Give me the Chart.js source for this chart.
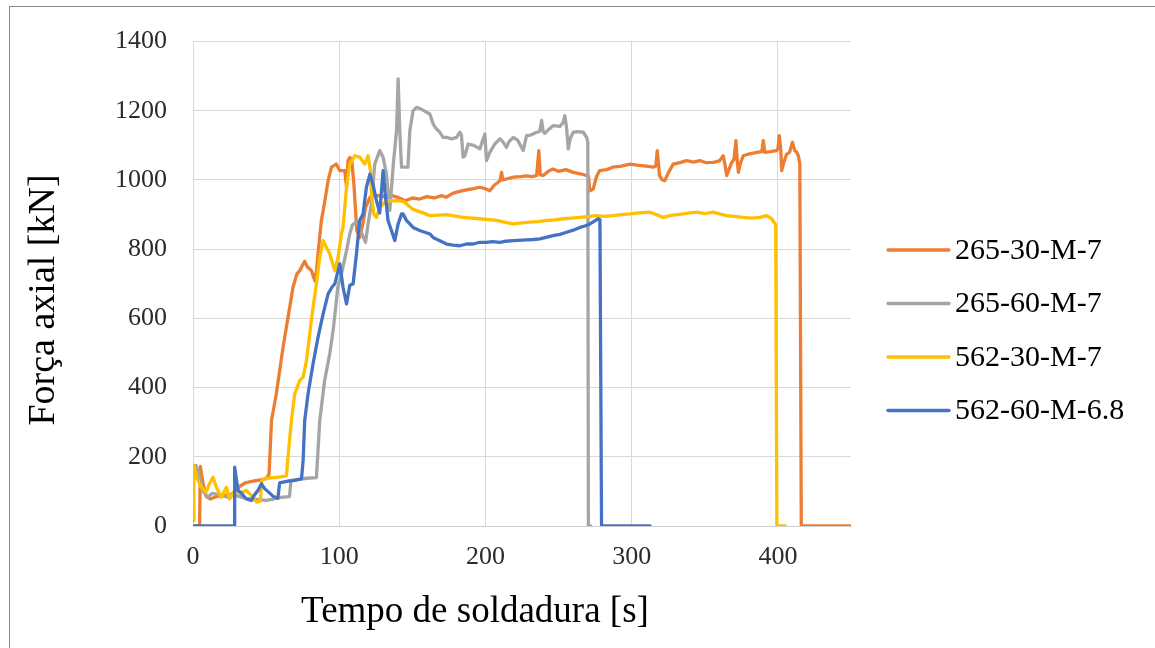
<!DOCTYPE html>
<html>
<head>
<meta charset="utf-8">
<title>Força axial vs tempo de soldadura</title>
<script src="https://cdn.jsdelivr.net/npm/chart.js@4.4.1/dist/chart.umd.min.js"></script>
<style>
  html, body { margin: 0; padding: 0; background: #fff; overflow: hidden; }
  #frame { position: absolute; left: 9px; top: 6px; width: 1300px; height: 800px; border: 1px solid #8a8a8a; }
  #c { position: absolute; left: 0; top: 0; display: block; }
</style>
</head>
<body>
<div id="frame"></div>
<canvas id="c" width="1155" height="648"></canvas>
<script>
// Series names (legend order)
const seriesNames = ['265-30-M-7', '265-60-M-7', '562-30-M-7', '562-60-M-6.8'];
const seriesColors = ['#ED7D31', '#A5A5A5', '#FFC000', '#4472C4'];

// Axis settings
const xTitle = 'Tempo de soldadura [s]';
const yTitle = 'Força axial [kN]';
const xMax = 450, xStep = 100;
const yMax = 1400, yStep = 200;

// 265-30-M-7: tempo [s] / força [kN]
const t265_30 = [0,4.5,5,7,9,12,16,20,24,28,32,36,41,46,50,52,53.7,57,61.6,65,68.4,71,73,75,76.4,78,81,83.3,84.5,85.5,87.8,90,92.4,94.7,98,100.4,103.8,105,106,107.2,108.5,110,112,114,116,118,121,124,128,132,136,140,145,150,155,160,165,170,173,178,183,188,192,196,200,203,206,210,211,212,216,219,224,228,232,235,236.5,237.5,239.5,243,246,250,255,260,265,269,270.5,271.4,273.7,276,278,283,287,293,298.8,305,310,314.7,316.5,317.5,318.5,319,321,322.7,325,328.4,333,337.6,342,346.7,351,355.8,360,362.6,364,365,366.5,368.4,370,371.3,372.3,373,374.5,376.3,380,385.5,389,390,391,395,399,400,401,402,402.6,404,406,408,410,411.5,412.9,414,415,416,450];
const f265_30 = [0,0,172,120,85,78,85,90,88,95,115,125,130,133,137,150,305,383,517,603,690,728,738,755,765,750,738,709,740,787,883,935,998,1037,1046,1027,1027,979,1056,1065,1060,990,854,834,870,920,950,955,955,950,955,950,940,948,945,952,948,955,950,962,968,972,975,979,975,969,985,998,1022,1000,1005,1008,1010,1012,1010,1013,1085,1015,1013,1025,1032,1025,1030,1022,1018,1013,1010,969,974,1010,1027,1030,1037,1040,1046,1042,1040,1037,1040,1085,1040,1013,1000,998,1020,1046,1050,1056,1052,1056,1050,1051,1055,1070,1040,1013,1030,1050,1060,1114,1050,1022,1050,1070,1075,1080,1082,1114,1080,1082,1085,1090,1128,1085,1027,1050,1075,1080,1109,1085,1080,1070,1046,0,0];

// 265-60-M-7
const t265_60 = [0,2,4,7,10,13,16,20,24,28,32,36,40,45,50,55,60,66,67,72,78,84.4,86.7,90,93.5,95.8,97.6,99,101.5,105,107.2,109,112,115,118,120,122,124.3,127.7,130,132.3,134.6,137,139.2,140.3,141.4,142.6,147,148.3,150.5,152.9,156,159.7,162,164.2,166,168.8,171,173.4,176.8,180.2,182.5,183.6,184.7,185.9,188.2,192,196.2,199.6,200.7,203,206.4,209.9,212,214.4,216,219,222,225.8,228.1,231,235,237,238.4,239.5,240.6,243,246.3,250.9,253,254.3,255.5,256.6,258,260,263,266.9,269.2,270,270.4,272];
const f265_60 = [170,175,150,100,83,94,92,88,83,90,85,80,78,76,74,78,83,85,132,135,138,140,305,420,497,564,632,690,728,796,844,870,880,850,820,880,931,1046,1085,1066,1017,912,1046,1143,1292,1143,1037,1037,1143,1200,1210,1205,1196,1191,1162,1150,1138,1123,1123,1119,1123,1138,1130,1066,1070,1104,1100,1090,1133,1056,1080,1104,1119,1110,1094,1110,1123,1115,1085,1128,1130,1138,1140,1172,1140,1135,1145,1157,1155,1165,1186,1150,1090,1120,1138,1140,1138,1123,1110,0,0];

// 562-30-M-7
const t562_30 = [0,0.6,2,3.5,5.7,9,11,13.7,16,19.4,22.8,25,28.5,32,36.5,40,43.4,46,47,50,55,60,63.9,65,67.3,69.6,73,75.3,77.6,79.8,82.1,84.4,86.7,89,91.3,93.5,97,99.2,101.5,102.6,105,107.2,110.6,114,117.5,119.7,121.4,122,123.6,125.5,127.7,132.3,139.2,143.7,146,150.5,157.4,162,173.4,184.7,196,207.6,213,219,225,230.4,236,241.8,247,253.2,259,264.6,270,276,281,287.4,293,298.8,305,312.5,317,321.6,327,335,340,344.5,350,355.8,360,365,370,376.3,382,387.8,392.3,395.7,397.3,398.5,399.3,405];
const f562_30 = [15,175,150,131,112,98,120,141,112,83,112,78,103,95,103,88,69,72,131,138,140,142,145,200,305,382,420,430,478,555,632,700,777,825,805,787,738,777,844,863,979,1046,1070,1066,1046,1070,1027,960,902,892,921,940,940,938,931,915,905,897,900,892,888,883,878,873,876,878,880,883,885,888,890,892,894,897,895,897,900,902,905,907,900,892,898,902,905,907,903,907,902,897,895,892,890,892,897,888,878,870,0,0];

// 562-60-M-6.8
const t562_60 = [0,28.3,28.5,30.8,33,36.5,40,42,44.5,46.8,49,52.5,55,58,59.3,61.6,65,68.4,72,74.2,75.3,76.4,78.7,82.1,85.5,89,92.4,95,97,100.4,102.6,105,107.2,109.5,111.8,114,116.3,118.6,121,123.2,125.5,127.7,130,131.2,133.4,135.7,138,140.3,142.6,143.7,146,148.3,150.5,155,162,164.2,173.4,178,182.5,187,191.6,196,200.7,205,209.9,214,219,228.1,233,237.2,242,246.3,251,255.5,260,264.6,268,271.4,274,277.1,278.3,279.4,312.6];
const f562_60 = [0,0,170,103,95,78,74,90,103,122,108,95,85,80,125,127,130,131,134,136,189,305,382,469,545,613,671,690,700,758,690,642,695,700,787,883,902,979,1017,985,940,905,1027,969,883,854,825,873,902,902,883,873,863,854,844,834,815,812,810,815,815,820,820,822,820,823,825,827,828,830,835,839,843,849,855,863,867,873,880,888,885,0,0];

const seriesTimes = [t265_30, t265_60, t562_30, t562_60];
const seriesForces = [f265_30, f265_60, f562_30, f562_60];

const serif = '"Liberation Serif", "Times New Roman", serif';

const datasets = seriesNames.map((name, i) => ({
  label: name,
  data: seriesTimes[i].map((t, k) => ({ x: t, y: seriesForces[i][k] })),
  borderColor: seriesColors[i],
  backgroundColor: seriesColors[i],
  borderWidth: 3.3,
  borderJoinStyle: 'round',
  borderCapStyle: 'round',
  pointRadius: 0,
  tension: 0,
  fill: false,
  // later series are painted over earlier ones
  order: seriesNames.length - i
}));

// Legend on the right and the two axis titles
const annotations = {
  id: 'annotations',
  afterDraw(chart) {
    const { ctx, chartArea } = chart;
    ctx.save();
    ctx.fillStyle = '#000';
    ctx.textBaseline = 'middle';
    ctx.font = '30px ' + serif;
    const lx = chartArea.right + 37;
    seriesNames.forEach((name, i) => {
      const y = 250 + i * 53.5;
      ctx.strokeStyle = seriesColors[i];
      ctx.lineWidth = 3.3;
      ctx.lineCap = 'round';
      ctx.beginPath();
      ctx.moveTo(lx, y);
      ctx.lineTo(lx + 61, y);
      ctx.stroke();
      ctx.textAlign = 'left';
      ctx.fillText(name, lx + 67, y + 1);
    });

    ctx.font = '37px ' + serif;
    ctx.textAlign = 'center';
    ctx.fillText(xTitle, 475, 612);

    ctx.font = '38px ' + serif;
    ctx.translate(44, 300);
    ctx.rotate(-Math.PI / 2);
    ctx.fillText(yTitle, 0, 0);
    ctx.restore();
  }
};

const tickFont = { family: serif, size: 26 };

new Chart(document.getElementById('c'), {
  type: 'line',
  data: { datasets },
  options: {
    responsive: false,
    animation: false,
    layout: { padding: { left: 0, top: 41, right: 304, bottom: 0 } },
    plugins: { legend: { display: false }, tooltip: { enabled: false } },
    scales: {
      x: {
        type: 'linear',
        min: 0,
        max: xMax,
        ticks: { stepSize: xStep, includeBounds: false, padding: 16, color: '#2b2b2b', font: tickFont, callback: v => String(v) },
        grid: { color: '#d9d9d9', lineWidth: 1, drawTicks: false },
        border: { color: '#cfcfcf', width: 1 },
        afterFit(scale) { scale.height = 122; }
      },
      y: {
        type: 'linear',
        min: 0,
        max: yMax,
        ticks: { stepSize: yStep, padding: 26, color: '#2b2b2b', font: tickFont, callback: v => String(v) },
        grid: { color: '#d9d9d9', lineWidth: 1, drawTicks: false },
        border: { display: false },
        afterFit(scale) { scale.width = 193; }
      }
    }
  },
  plugins: [annotations]
});
</script>
</body>
</html>
